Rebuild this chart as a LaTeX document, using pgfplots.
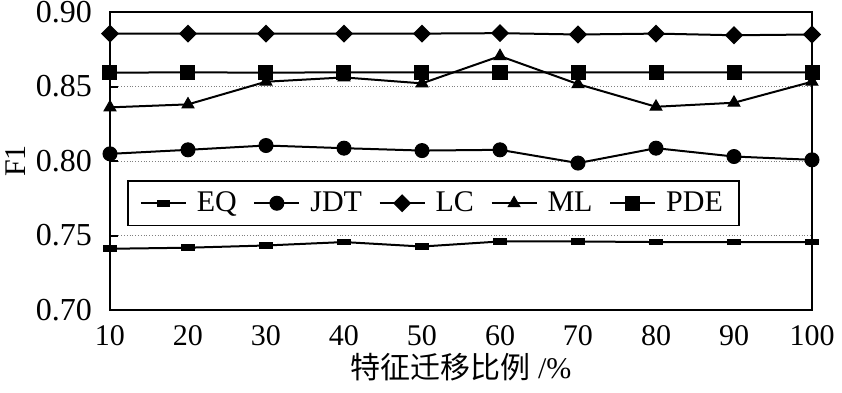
\documentclass[border=0pt]{standalone}
\usepackage{pgfplots}
\pgfplotsset{compat=1.18}
\usepackage{fontspec}
\setmainfont{Liberation Serif}
\newfontfamily\cjk{Noto Sans CJK SC}
\pgfdeclareplotmark{hrect}{%
  \pgfpathrectangle{\pgfqpoint{-3.1pt}{-1.45pt}}{\pgfqpoint{6.2pt}{2.9pt}}%
  \pgfusepathqfillstroke}
\newcommand{\fs}{\fontsize{15}{18}\selectfont}
\begin{document}
\begin{tikzpicture}
\begin{axis}[
  scale only axis,
  width=351pt, height=149pt,
  xmin=10, xmax=100, ymin=0.70, ymax=0.90,
  xtick={10,20,...,100},
  ytick={0.70,0.75,0.80,0.85,0.90},
  yticklabel style={/pgf/number format/fixed,/pgf/number format/precision=2,/pgf/number format/fixed zerofill, xshift=-5.5pt, font=\fontsize{16}{18}\selectfont},
  xticklabel style={yshift=-4pt},
  /pgf/number format/assume math mode=true,
  tick label style={font=\fs},
  xtick style={draw=none},
  ytick pos=left,
  tick align=inside,
  major tick length=4pt,
  every tick/.style={black, line width=1pt},
  axis line style={line width=1pt},
  ymajorgrids,
  grid style={densely dotted, gray, line width=0.5pt},
  clip=false,
  xlabel={{\cjk 特征迁移比例} /\%},
  ylabel={F1},
  label style={font=\fs},
  xlabel style={at={(axis description cs:0.5,0)}, anchor=north, yshift=-18pt},
  ylabel style={at={(axis description cs:-0.110,0.5)}, anchor=south},
  legend columns=5,
  legend style={at={(axis description cs:0.0242,0.4362)}, anchor=north west,
    draw=black, line width=0.8pt, font=\fs, inner xsep=6pt, inner ysep=3.5pt,
    /tikz/every odd column/.style={column sep=3pt},
    /tikz/every even column/.style={column sep=6.3pt}},
  legend image code/.code={%
    \draw[mark repeat=2,mark phase=2] plot coordinates {(0pt,0pt) (11.25pt,0pt) (22.5pt,0pt)};},
  every axis plot/.append style={black, line width=1pt, mark options={solid, fill=black, line width=0.5pt}},
]
\addplot[mark=hrect] coordinates {(10,0.7411)(20,0.7418)(30,0.7433)(40,0.7456)(50,0.7426)(60,0.7460)(70,0.7460)(80,0.7456)(90,0.7456)(100,0.7456)};
\addlegendentry{EQ}
\addplot[mark=*, mark size=3.5pt] coordinates {(10,0.8048)(20,0.8075)(30,0.8104)(40,0.8086)(50,0.8070)(60,0.8075)(70,0.7986)(80,0.8086)(90,0.8030)(100,0.8008)};
\addlegendentry{JDT}
\addplot[mark=square*, mark size=2.7pt, mark options={rotate=45}] coordinates {(10,0.8855)(20,0.8855)(30,0.8855)(40,0.8855)(50,0.8855)(60,0.8858)(70,0.8849)(80,0.8855)(90,0.8844)(100,0.8849)};
\addlegendentry{LC}
\addplot[mark=triangle*, mark size=3.4pt] coordinates {(10,0.8360)(20,0.8380)(30,0.8532)(40,0.8561)(50,0.8521)(60,0.8704)(70,0.8516)(80,0.8364)(90,0.8391)(100,0.8532)};
\addlegendentry{ML}
\addplot[mark=square*, mark size=3.5pt] coordinates {(10,0.8593)(20,0.8595)(30,0.8593)(40,0.8595)(50,0.8595)(60,0.8595)(70,0.8595)(80,0.8595)(90,0.8595)(100,0.8595)};
\addlegendentry{PDE}
\end{axis}
\pgfresetboundingbox
\path ([shift={(-55pt,-41pt)}]current axis.south west) rectangle ([shift={(15pt,6pt)}]current axis.north east);
\end{tikzpicture}
\end{document}
